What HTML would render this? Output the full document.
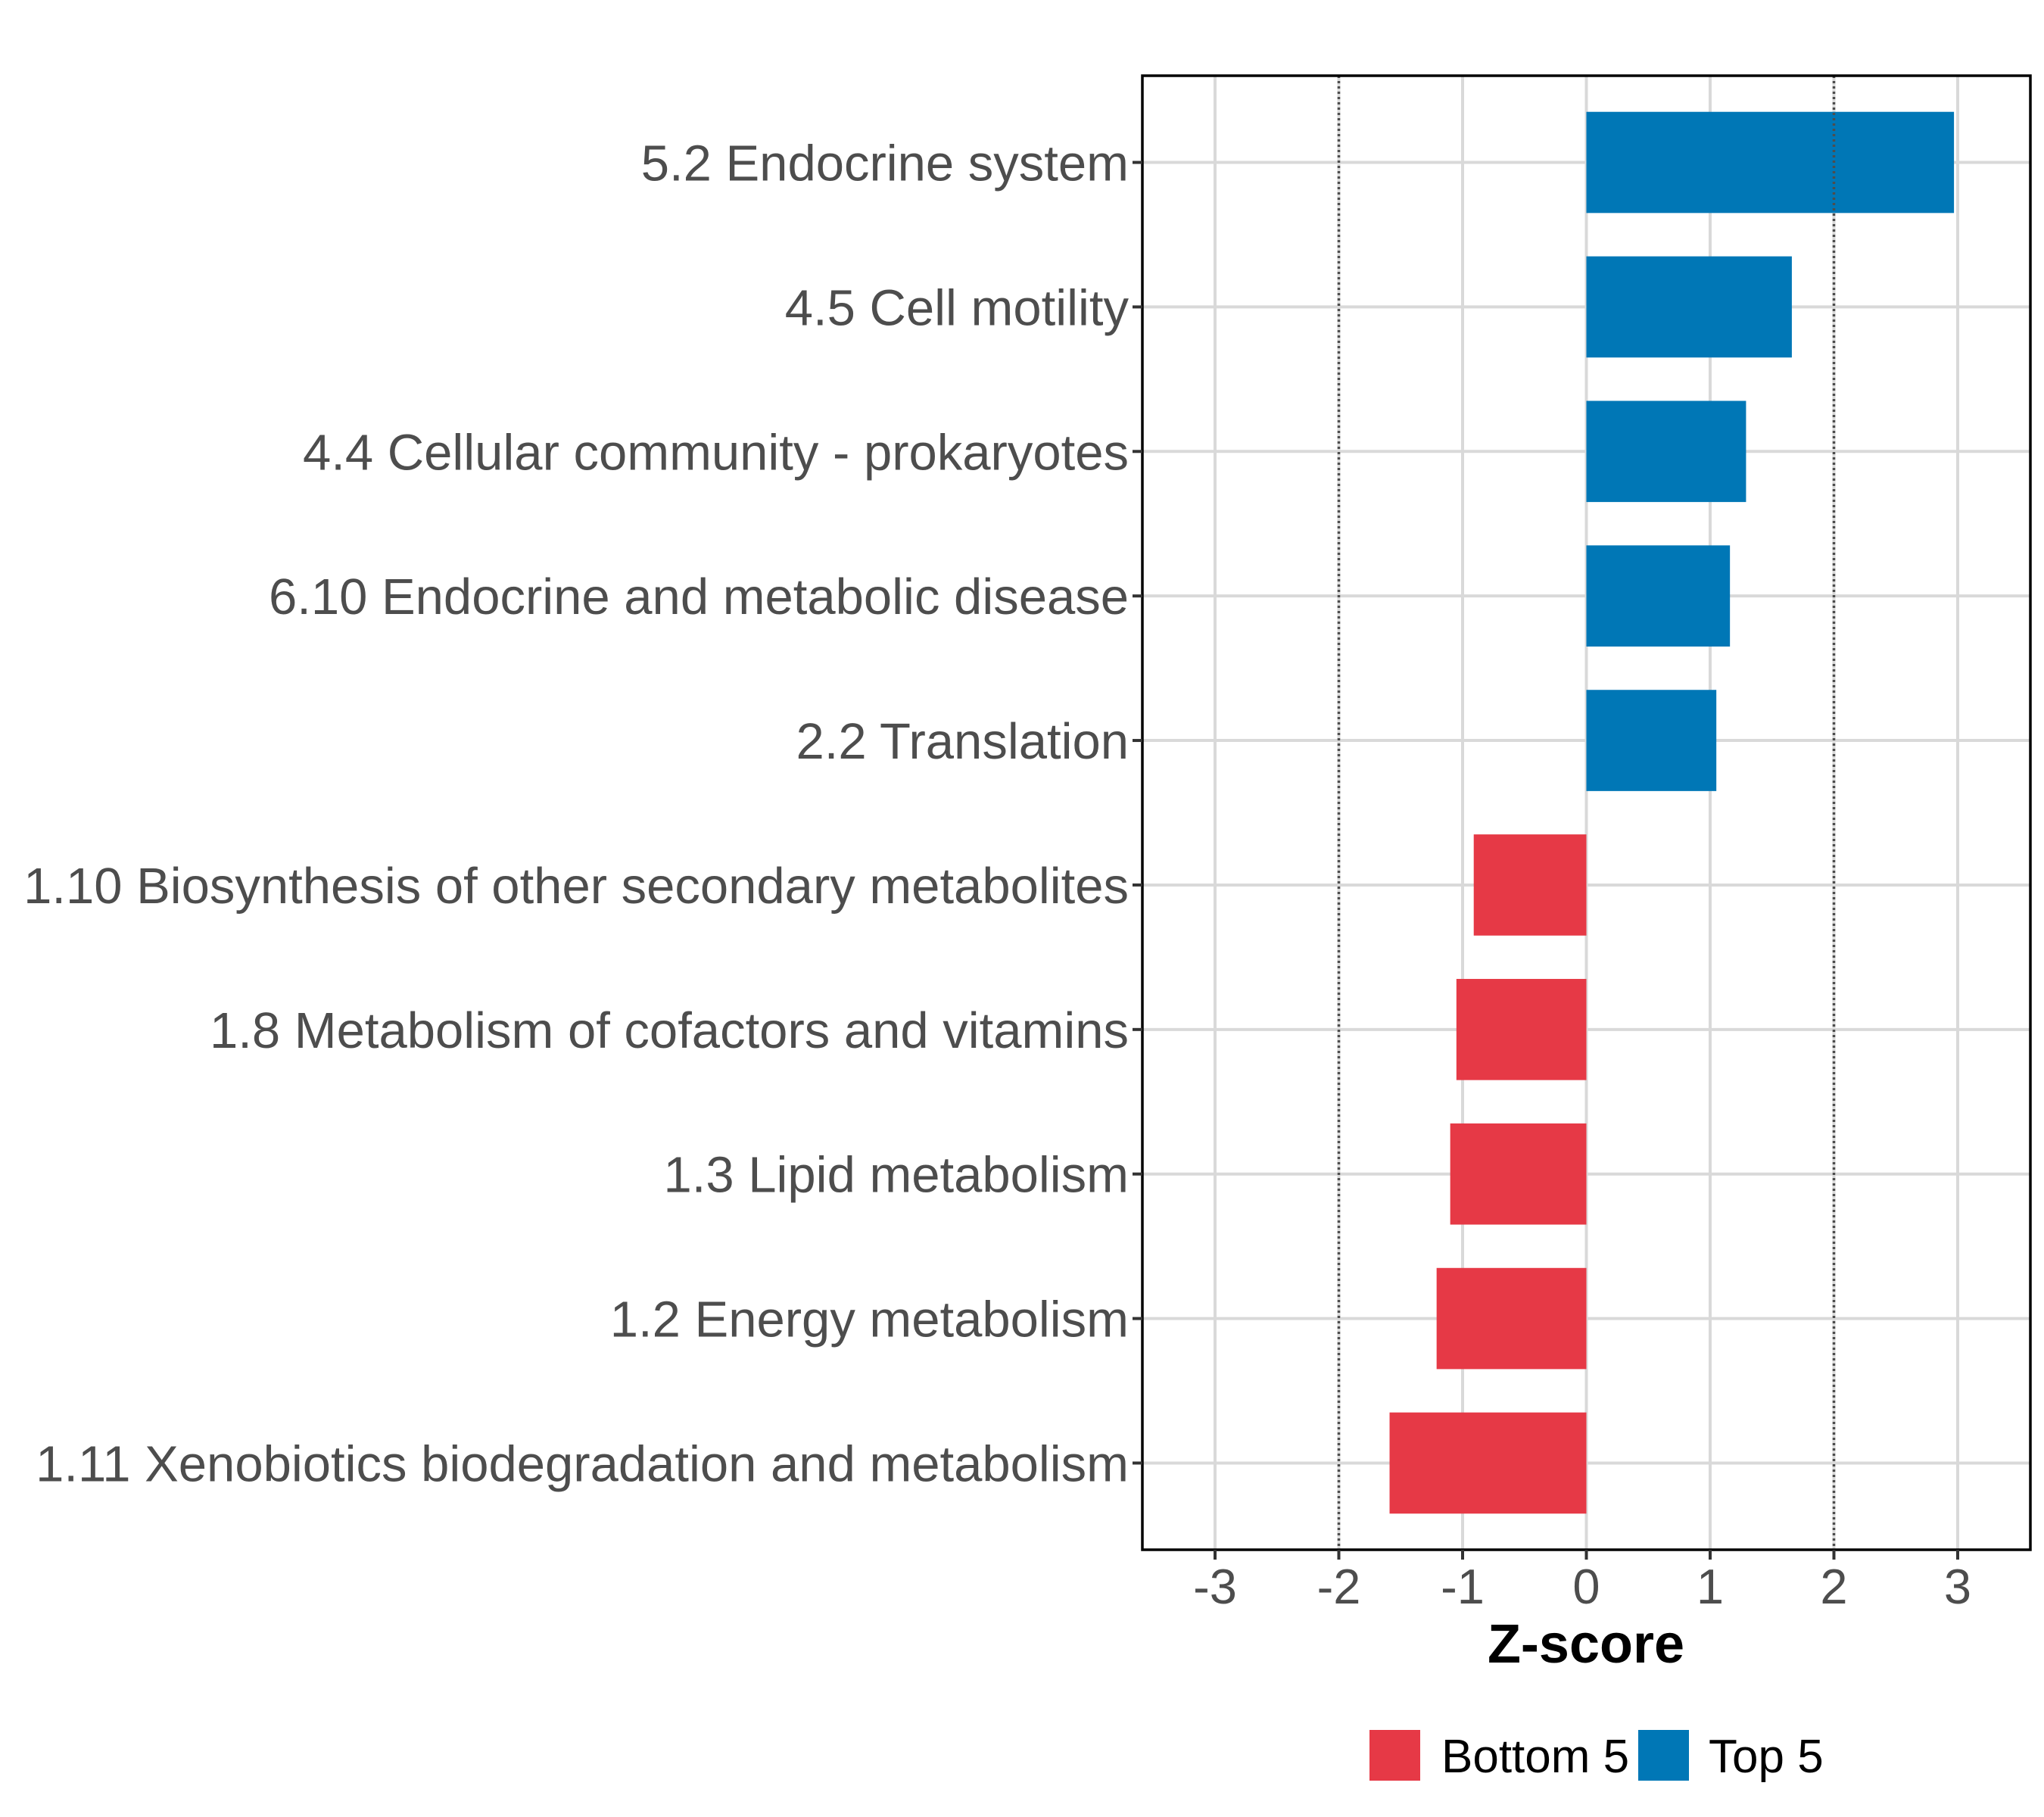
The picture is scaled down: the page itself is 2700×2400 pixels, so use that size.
<!DOCTYPE html>
<html><head><meta charset="utf-8"><style>
html,body{margin:0;padding:0;background:#fff;}
svg{display:block;font-family:"Liberation Sans",Arial,sans-serif;}
</style></head><body>
<svg id="chart" width="2700" height="2400" viewBox="0 0 2700 2400" xmlns="http://www.w3.org/2000/svg">
<rect x="0" y="0" width="2700" height="2400" fill="#fff"/>
<g id="grid"></g>
<g id="bars"></g>
<g id="axes"></g>
<text x="2095" y="2196" text-anchor="middle" font-size="72" font-weight="bold" fill="#000">Z-score</text>
<g>
<rect x="1809" y="2285" width="67" height="67" fill="#E63946"/>
<text x="1904" y="2341" font-size="62" fill="#000">Bottom 5</text>
<rect x="2164" y="2285" width="67" height="67" fill="#0077B6"/>
<text x="2257" y="2341" font-size="62" fill="#000">Top 5</text>
</g>
</svg>
<script>
const categories = ["5.2 Endocrine system","4.5 Cell motility","4.4 Cellular community - prokaryotes","6.10 Endocrine and metabolic disease","2.2 Translation","1.10 Biosynthesis of other secondary metabolites","1.8 Metabolism of cofactors and vitamins","1.3 Lipid metabolism","1.2 Energy metabolism","1.11 Xenobiotics biodegradation and metabolism"];
const values = [2.97,1.66,1.29,1.16,1.05,-0.91,-1.05,-1.10,-1.21,-1.59];
const groups = ["Top 5","Top 5","Top 5","Top 5","Top 5","Bottom 5","Bottom 5","Bottom 5","Bottom 5","Bottom 5"];
const xTicks = [-3,-2,-1,0,1,2,3];
const thresholds = [-2,2];

const NS="http://www.w3.org/2000/svg";
const PL=1509, PR=2682, PT=100, PB=2047;
const X0=2095.5, XU=163.5;
const x = v => X0 + v*XU;
const bandU = (PB-PT)/(categories.length+0.2);
const y = i => PT + (0.6+i)*bandU;
const colors = {"Top 5":"#0077B6","Bottom 5":"#E63946"};
function mk(tag, attrs, parent){const e=document.createElementNS(NS,tag);for(const k in attrs)e.setAttribute(k,attrs[k]);parent.appendChild(e);return e;}
const grid=document.getElementById('grid'), bars=document.getElementById('bars'), axes=document.getElementById('axes');

xTicks.forEach(t=>{
  const l=mk('line',{x1:x(t),x2:x(t),y1:PT,y2:PB,stroke:'#d9d9d9','stroke-width':4},grid);
  
  
});
categories.forEach((c,i)=>{
  const l=mk('line',{x1:PL,x2:PR,y1:y(i),y2:y(i),stroke:'#d9d9d9','stroke-width':4},grid);
  
  
});
values.forEach((v,i)=>{
  const h=bandU*0.7;
  const r=mk('rect',{x:Math.min(x(0),x(v)),y:y(i)-h/2,width:Math.abs(x(v)-x(0)),height:h,fill:colors[groups[i]]},bars);
  
  
});
thresholds.forEach(t=>{
  const l=mk('line',{x1:x(t),x2:x(t),y1:PT,y2:PB,stroke:'#4d4d4d','stroke-width':3.5,'stroke-dasharray':'3 4'},axes);
  
  
});
const frame=mk('rect',{x:PL,y:PT,width:PR-PL,height:PB-PT,fill:'none',stroke:'#000','stroke-width':3.5},axes);


xTicks.forEach(t=>{
  const tk=mk('line',{x1:x(t),x2:x(t),y1:PB,y2:PB+13,stroke:'#333','stroke-width':4},axes);
  
  
  const tx=mk('text',{x:x(t),y:2118,'text-anchor':'middle','font-size':65,fill:'#4d4d4d'},axes);
  tx.textContent=String(t);
  
  
});
categories.forEach((c,i)=>{
  const tk=mk('line',{x1:PL-13,x2:PL,y1:y(i),y2:y(i),stroke:'#333','stroke-width':4},axes);
  
  
  const tx=mk('text',{x:1491,y:y(i)+24,'text-anchor':'end','font-size':67,fill:'#4d4d4d'},axes);
  tx.textContent=c;
  
  
});
</script>
</body></html>
